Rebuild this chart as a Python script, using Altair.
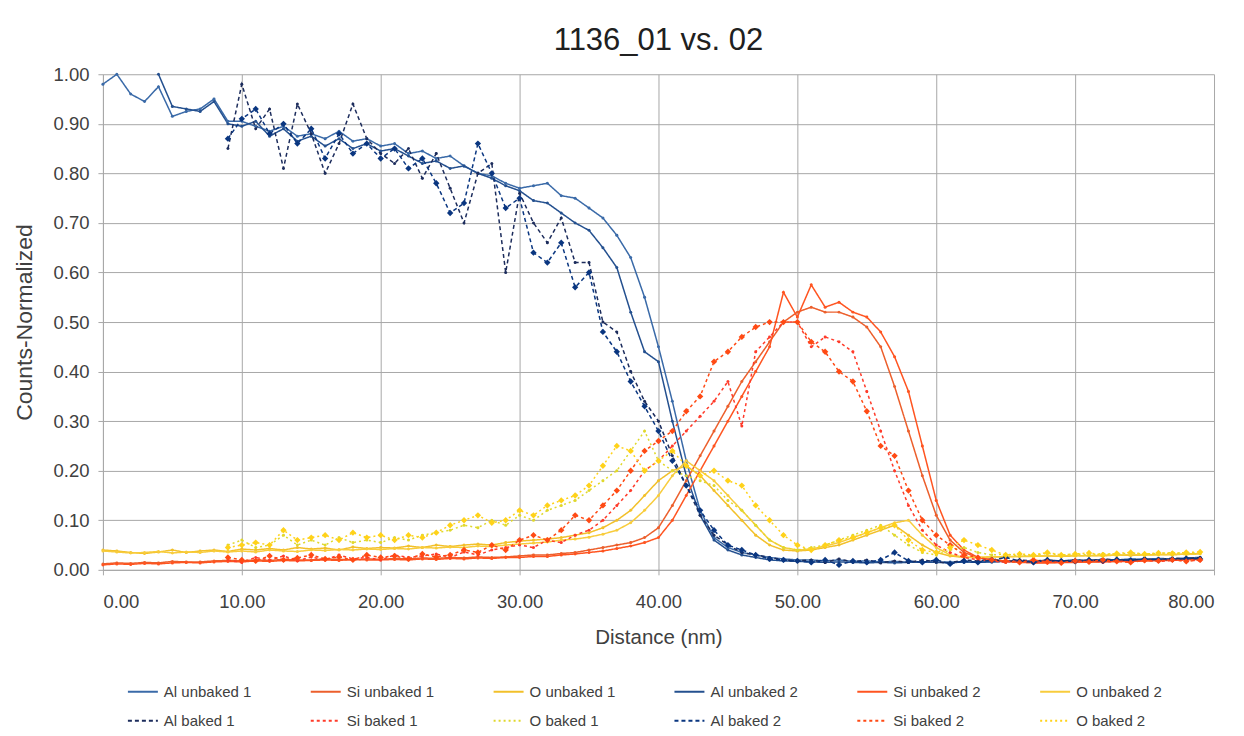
import altair as alt
import pandas as pd

SERIES = ["Al unbaked 1", "Si unbaked 1", "O unbaked 1", "Al unbaked 2", "Si unbaked 2", "O unbaked 2",
          "Al baked 1", "Si baked 1", "O baked 1", "Al baked 2", "Si baked 2", "O baked 2"]
COLORS = ["#3a6aa8", "#ec5f2c", "#f2c02a", "#24508f", "#ff5420", "#f8cc3c",
          "#1c2c5c", "#ff3b2a", "#e0d82c", "#0a3680", "#ff4a14", "#ffd21a"]
DASHES = [[1, 0], [1, 0], [1, 0], [1, 0], [1, 0], [1, 0],
          [4, 3], [3, 3], [2, 3], [4, 3], [3, 3], [2, 3]]
BIG_MARKER_SERIES = ["Al baked 2", "Si baked 2", "O baked 2"]

X_FULL = list(range(0, 80))
X_AL2 = list(range(4, 80))
X_BAKED = list(range(9, 80))

AL_UNBAKED_1 = [.98, 1.00, .96, .945, .975, .915, .925, .93, .95, .905,
                .905, .895, .885, .895, .875, .88, .87, .885, .865, .87,
                .855, .86, .84, .845, .83, .835, .815, .80, .795, .78,
                .77, .775, .78, .755, .75, .73, .71, .675, .63, .55,
                .45, .34, .22, .12, .065, .045, .035, .03, .025, .022,
                .02, .02, .018, .02, .017, .018, .016, .017, .015, .016,
                .015, .016, .015, .017, .016, .018, .017, .018, .019, .018,
                .02, .019, .021, .02, .022, .021, .023, .022, .024, .025]
AL_UNBAKED_2 = [1.00, .935, .93, .925, .945, .90,
                .895, .905, .875, .89, .865, .875, .855, .87, .85, .86,
                .845, .85, .835, .82, .825, .81, .815, .80, .79, .775,
                .765, .745, .74, .72, .70, .685, .65, .61, .52, .44,
                .42, .30, .19, .11, .06, .04, .03, .025, .02, .018,
                .017, .016, .015, .016, .015, .014, .015, .014, .015, .016,
                .015, .014, .016, .015, .016, .017, .016, .018, .017, .018,
                .019, .018, .02, .019, .021, .02, .022, .021, .023, .024]
AL_BAKED_1 = [.85,
              .98, .89, .93, .81, .94, .88, .80, .86, .94, .87,
              .84, .82, .85, .79, .84, .77, .70, .80, .82, .60,
              .76, .70, .66, .71, .62, .62, .50, .48, .40, .34,
              .30, .23, .17, .11, .07, .05, .035, .03, .025, .02,
              .018, .02, .015, .022, .016, .02, .014, .018, .015, .02,
              .016, .014, .02, .018, .022, .016, .02, .018, .02, .017,
              .02, .018, .022, .02, .019, .022, .02, .024, .022, .025]
AL_BAKED_2 = [.87,
              .91, .93, .88, .90, .86, .89, .83, .88, .84, .86,
              .83, .85, .81, .83, .78, .72, .74, .86, .80, .73,
              .75, .64, .62, .66, .57, .60, .48, .44, .38, .33,
              .28, .22, .17, .12, .08, .05, .04, .03, .022, .02,
              .018, .015, .02, .01, .018, .015, .02, .035, .018, .015,
              .02, .012, .018, .015, .02, .025, .018, .015, .02, .018,
              .017, .02, .018, .021, .019, .022, .02, .021, .023, .022]
SI_UNBAKED_1 = [.012, .014, .013, .015, .014, .017, .016, .016, .018, .019,
                .018, .02, .019, .021, .02, .02, .022, .021, .02, .022,
                .021, .023, .022, .024, .023, .025, .024, .026, .025, .026,
                .028, .03, .03, .033, .035, .04, .045, .05, .055, .065,
                .085, .13, .18, .23, .28, .33, .38, .42, .46, .50,
                .52, .53, .52, .52, .51, .49, .45, .37, .28, .19,
                .11, .06, .035, .025, .02, .018, .016, .015, .015, .015,
                .016, .016, .017, .017, .018, .018, .019, .02, .021, .022]
SI_UNBAKED_2 = [.01, .012, .011, .013, .012, .014, .015, .014, .016, .017,
                .016, .018, .017, .019, .018, .019, .02, .019, .021, .02,
                .02, .021, .02, .022, .021, .023, .022, .024, .023, .025,
                .025, .027, .027, .03, .032, .035, .038, .043, .048, .055,
                .065, .10, .15, .20, .25, .30, .35, .40, .45, .56,
                .51, .575, .53, .54, .52, .51, .48, .43, .36, .25,
                .14, .07, .04, .025, .02, .017, .015, .014, .014, .015,
                .015, .016, .016, .017, .017, .018, .019, .019, .02, .021]
SI_BAKED_1 = [.02,
              .015, .025, .02, .028, .018, .026, .02, .03, .022, .025,
              .02, .03, .025, .028, .032, .025, .036, .03, .04, .045,
              .05, .045, .06, .055, .07, .08, .10, .13, .16, .20,
              .22, .25, .28, .31, .34, .38, .29, .44, .47, .50,
              .50, .45, .47, .46, .44, .36, .28, .20, .13, .08,
              .05, .035, .025, .02, .018, .015, .02, .014, .018, .015,
              .016, .02, .015, .018, .016, .02, .017, .019, .02, .018]
SI_BAKED_2 = [.025,
              .02, .018, .028, .02, .024, .03, .022, .026, .02, .03,
              .025, .028, .022, .032, .026, .03, .04, .035, .05, .04,
              .06, .07, .06, .08, .11, .10, .13, .16, .20, .24,
              .26, .28, .32, .35, .42, .44, .47, .49, .50, .50,
              .50, .46, .44, .40, .38, .32, .25, .23, .16, .10,
              .07, .05, .03, .025, .02, .018, .015, .02, .016, .014,
              .018, .016, .02, .017, .015, .019, .018, .02, .017, .02]
O_UNBAKED_1 = [.04, .038, .035, .033, .036, .04, .035, .038, .04, .037,
               .042, .04, .043, .04, .045, .042, .044, .04, .046, .043,
               .045, .044, .048, .045, .05, .047, .05, .052, .05, .055,
               .058, .06, .062, .065, .07, .075, .085, .10, .12, .15,
               .18, .20, .21, .19, .16, .13, .10, .07, .05, .04,
               .038, .04, .045, .05, .06, .07, .08, .09, .07, .05,
               .035, .028, .025, .025, .026, .027, .027, .028, .028, .027,
               .028, .029, .028, .03, .029, .03, .031, .03, .032, .033]
O_UNBAKED_2 = [.038, .036, .034, .035, .037, .034, .036, .035, .038, .036,
               .038, .036, .04, .038, .037, .04, .039, .041, .04, .042,
               .041, .043, .042, .045, .044, .046, .045, .048, .047, .05,
               .052, .054, .056, .06, .062, .066, .072, .08, .095, .12,
               .15, .19, .22, .20, .18, .15, .12, .09, .06, .045,
               .04, .042, .048, .055, .065, .075, .085, .095, .10, .07,
               .045, .03, .026, .025, .026, .026, .027, .027, .028, .028,
               .029, .028, .03, .029, .031, .03, .03, .032, .031, .032]
O_BAKED_1 = [.05,
             .06, .045, .05, .07, .05, .06, .05, .065, .055, .06,
             .055, .065, .06, .07, .075, .08, .09, .085, .10, .09,
             .11, .10, .12, .13, .14, .16, .18, .20, .24, .28,
             .22, .20, .19, .18, .17, .14, .12, .09, .06, .045,
             .04, .045, .05, .06, .07, .08, .09, .07, .05, .035,
             .03, .04, .045, .035, .03, .032, .028, .03, .033, .03,
             .032, .03, .033, .031, .034, .032, .033, .035, .033, .034]
O_BAKED_2 = [.045,
             .05, .055, .05, .08, .06, .065, .07, .06, .075, .065,
             .07, .06, .07, .065, .075, .09, .10, .11, .095, .10,
             .12, .11, .13, .14, .15, .17, .21, .25, .24, .20,
             .22, .24, .21, .19, .20, .18, .17, .13, .10, .07,
             .05, .04, .05, .06, .065, .075, .085, .09, .06, .04,
             .035, .045, .06, .05, .04, .03, .032, .03, .035, .03,
             .032, .034, .03, .033, .035, .032, .034, .033, .035, .036]

SERIES_DATA = {
    "Al unbaked 1": (X_FULL, AL_UNBAKED_1),
    "Si unbaked 1": (X_FULL, SI_UNBAKED_1),
    "O unbaked 1": (X_FULL, O_UNBAKED_1),
    "Al unbaked 2": (X_AL2, AL_UNBAKED_2),
    "Si unbaked 2": (X_FULL, SI_UNBAKED_2),
    "O unbaked 2": (X_FULL, O_UNBAKED_2),
    "Al baked 1": (X_BAKED, AL_BAKED_1),
    "Si baked 1": (X_BAKED, SI_BAKED_1),
    "O baked 1": (X_BAKED, O_BAKED_1),
    "Al baked 2": (X_BAKED, AL_BAKED_2),
    "Si baked 2": (X_BAKED, SI_BAKED_2),
    "O baked 2": (X_BAKED, O_BAKED_2),
}

rows = []
for name in SERIES:
    xs, ys = SERIES_DATA[name]
    for x, y in zip(xs, ys):
        rows.append({"series": name, "x": x, "y": y,
                     "big": name in BIG_MARKER_SERIES})
df = pd.DataFrame(rows)

FONT = "Liberation Sans"
TXT = "#404040"
color_scale = alt.Scale(domain=SERIES, range=COLORS)

x_enc = alt.X("x:Q", title="Distance (nm)",
              scale=alt.Scale(domain=[0, 80], nice=False, zero=False),
              axis=alt.Axis(values=list(range(0, 81, 10)), format=".2f"))
y_enc = alt.Y("y:Q", title="Counts-Normalized",
              scale=alt.Scale(domain=[0, 1], nice=False),
              axis=alt.Axis(values=[i / 10 for i in range(11)], format=".2f"))

legend = alt.Legend(title=None, orient="none", legendX=24, legendY=602, columns=6,
                    direction="horizontal", symbolType="stroke", symbolSize=900,
                    symbolStrokeWidth=2, labelFont=FONT, labelFontSize=15,
                    labelColor=TXT, labelOffset=5, columnPadding=55, rowPadding=5,
                    padding=0, labelLimit=300)

lines = alt.Chart(df).mark_line(strokeWidth=1.5).encode(
    x=x_enc, y=y_enc,
    color=alt.Color("series:N", scale=color_scale, legend=legend),
    strokeDash=alt.StrokeDash("series:N", scale=alt.Scale(domain=SERIES, range=DASHES), legend=legend),
    detail="series:N",
    order="x:Q",
)

small_pts = alt.Chart(df).transform_filter("!datum.big").mark_circle(size=9, opacity=1).encode(
    x="x:Q", y="y:Q",
    color=alt.Color("series:N", scale=color_scale, legend=None),
)
big_pts = alt.Chart(df).transform_filter("datum.big").mark_point(
    shape="diamond", filled=True, size=40, opacity=1).encode(
    x="x:Q", y="y:Q",
    color=alt.Color("series:N", scale=color_scale, legend=None),
)

chart = alt.layer(lines, small_pts, big_pts).properties(
    width=1112, height=496,
    autosize=alt.AutoSizeParams(type="none"),
    padding={"left": 95, "top": 66, "right": 22, "bottom": 158},
    title=alt.Title("1136_01 vs. 02", font=FONT, fontSize=31, fontWeight="normal",
                    color="#202020", anchor="middle", offset=8),
).configure_view(stroke=None).configure_legend(
    symbolType="stroke", symbolSize=900
).configure_axis(
    labelFont=FONT, labelFontSize=18.5, labelColor=TXT,
    titleFont=FONT, titleFontWeight="normal", titleColor=TXT,
    gridColor="#a8a8a8", gridWidth=1, domainColor="#a8a8a8", tickColor="#a8a8a8",
    tickSize=5,
).configure_axisX(labelPadding=18, titleFontSize=20.5, titlePadding=16
).configure_axisY(labelPadding=9, titleFontSize=23, titlePadding=16)

chart.save("out.html", embed_options={"renderer": "svg", "actions": False})
